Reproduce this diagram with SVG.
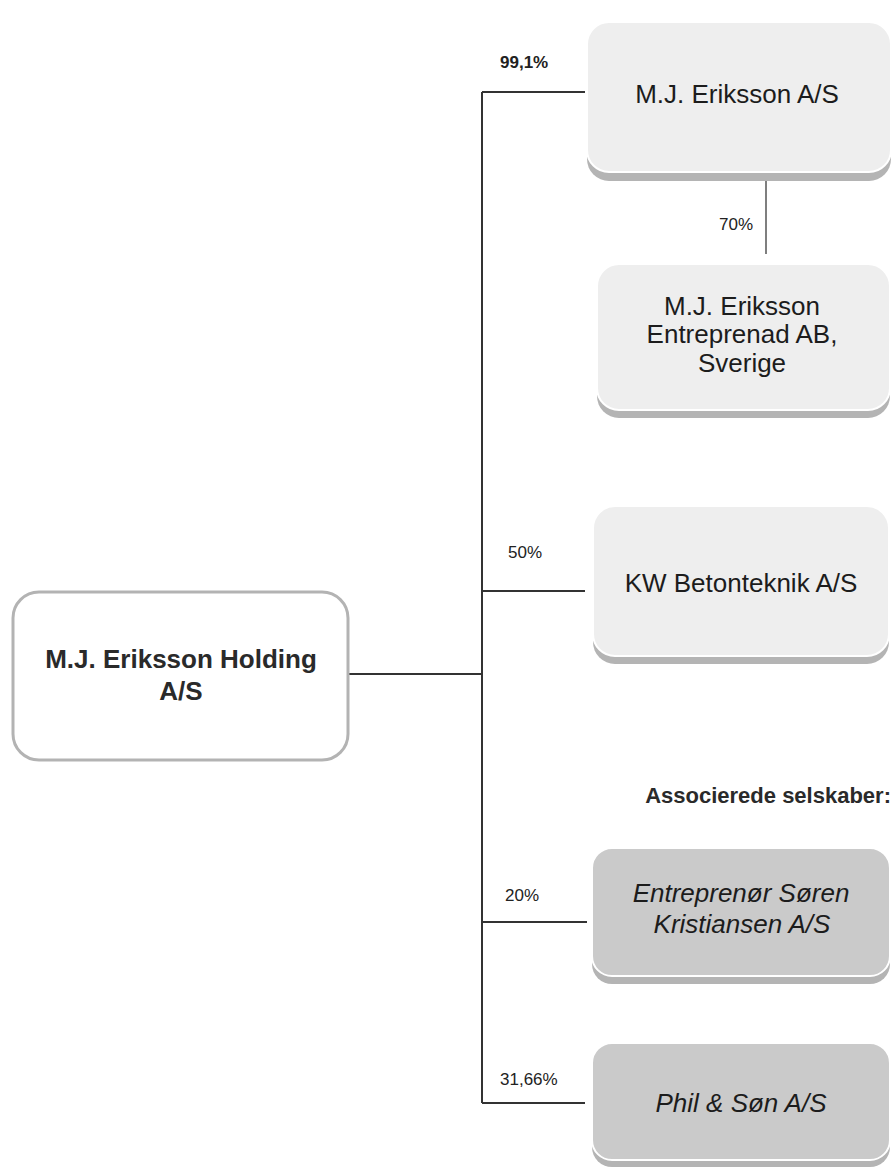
<svg xmlns="http://www.w3.org/2000/svg" width="894" height="1168" viewBox="0 0 894 1168">
<style>
.shadow{fill:#b4b4b4}
.sub{fill:#eeeeee;stroke:#ffffff;stroke-width:2}
.assoc{fill:#cacaca;stroke:#ffffff;stroke-width:2}
.t{font-family:"Liberation Sans",Arial,sans-serif;font-size:26px;fill:#1c1c1c;text-anchor:middle}
.ti{font-style:italic}
.tb{font-weight:bold;fill:#2a2a2a}
.lbl{font-family:"Liberation Sans",Arial,sans-serif;font-size:22px;font-weight:bold;fill:#2a2a2a;text-anchor:end}
.pct{font-family:"Liberation Sans",Arial,sans-serif;font-size:17px;fill:#222}
.conn{stroke:#333;stroke-width:2;fill:none}
</style>
<rect width="894" height="1168" fill="#ffffff"/>
<g id="connectors">
<path class="conn" d="M482,92 V1103"/>
<path class="conn" d="M482,92 H585"/>
<path class="conn" d="M482,591 H585"/>
<path class="conn" d="M348,674 H482"/>
<path class="conn" d="M482,922 H587"/>
<path class="conn" d="M482,1103 H585"/>
<path d="M766,179 V254" stroke="#555" stroke-width="1.5" fill="none"/>
<text class="pct" x="500" y="68" font-weight="bold">99,1%</text>
<text class="pct" x="719" y="230" font-size="16" fill="#666">70%</text>
<text class="pct" x="508" y="558">50%</text>
<text class="pct" x="505" y="901">20%</text>
<text class="pct" x="500" y="1085">31,66%</text>
</g>
<g id="holding">
<rect x="13" y="592" width="335" height="168" rx="26" fill="#ffffff" stroke="#b3b3b3" stroke-width="3"/>
<text class="t tb" x="181" y="668">M.J. Eriksson Holding</text>
<text class="t tb" x="181" y="700">A/S</text>
</g>
<g id="mje">
<rect class="shadow" x="587" y="31" width="304" height="150" rx="22"/>
<rect class="sub" x="587" y="22" width="304" height="150" rx="22"/>
<text class="t" x="737" y="103">M.J. Eriksson A/S</text>
</g>
<g id="mje-ab">
<rect class="shadow" x="597" y="272" width="293" height="146" rx="22"/>
<rect class="sub" x="597" y="264" width="293" height="146" rx="22"/>
<text class="t" x="742" y="315">M.J. Eriksson</text>
<text class="t" x="742" y="343">Entreprenad AB,</text>
<text class="t" x="742" y="372">Sverige</text>
</g>
<g id="kw">
<rect class="shadow" x="593" y="514" width="296" height="150" rx="22"/>
<rect class="sub" x="593" y="506" width="296" height="150" rx="22"/>
<text class="t" x="741" y="592">KW Betonteknik A/S</text>
</g>
<g id="assoc-label">
<text class="lbl" x="891" y="803">Associerede selskaber:</text>
</g>
<g id="esk">
<rect class="shadow" x="592" y="856" width="298" height="128" rx="20"/>
<rect class="assoc" x="592" y="848" width="298" height="128" rx="20"/>
<text class="t ti" x="741" y="902">Entreprenør Søren</text>
<text class="t ti" x="742" y="933">Kristiansen A/S</text>
</g>
<g id="phil">
<rect class="shadow" x="592" y="1050" width="298" height="117" rx="20"/>
<rect class="assoc" x="592" y="1043" width="298" height="117" rx="20"/>
<text class="t ti" x="741" y="1112">Phil &amp; Søn A/S</text>
</g>
</svg>
